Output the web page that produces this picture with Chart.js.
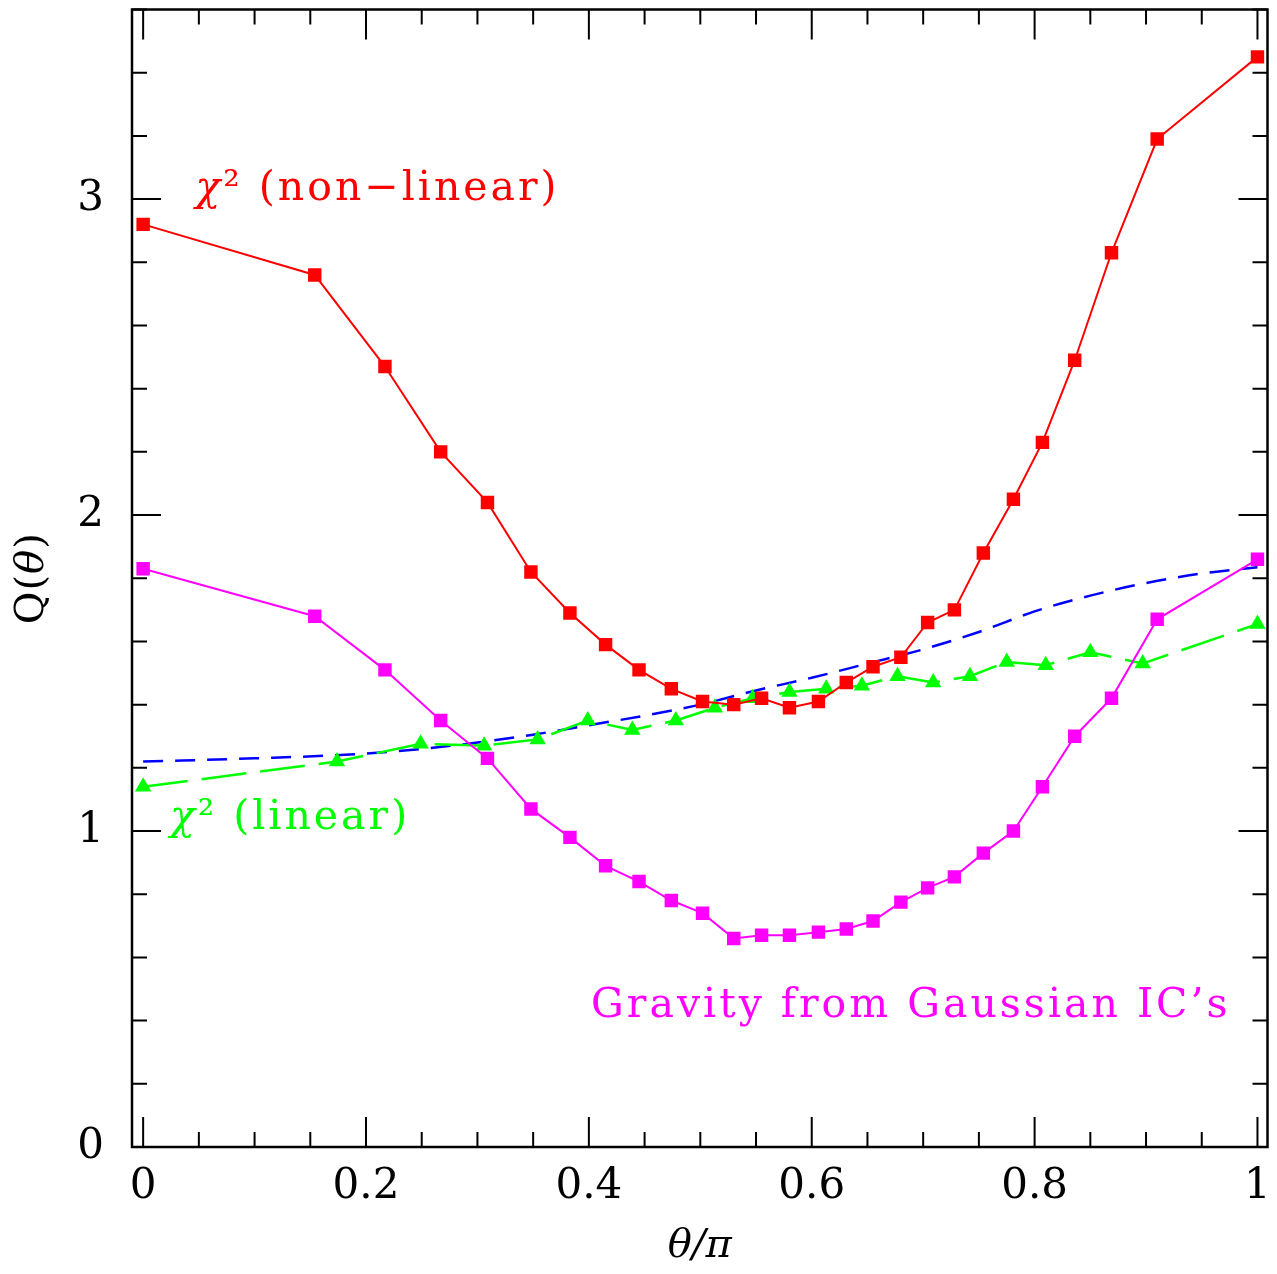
<!DOCTYPE html>
<html>
<head>
<meta charset="utf-8">
<script src="https://cdn.jsdelivr.net/npm/chart.js@4/dist/chart.umd.min.js"></script>
<style>
  html, body { margin: 0; padding: 0; background: #fff; }
</style>
</head>
<body>
<canvas id="qChart" width="1277" height="1274"></canvas>
<script>
// theta/pi sample points shared by the two square-marker curves
const thetaSq = [0, 0.154, 0.217, 0.267, 0.309, 0.348, 0.383, 0.415, 0.445, 0.474,
  0.502, 0.530, 0.555, 0.580, 0.606, 0.631, 0.655, 0.680, 0.704, 0.728,
  0.754, 0.781, 0.807, 0.836, 0.869, 0.910, 1.0];
const chi2NonLinear = [2.92, 2.76, 2.47, 2.20, 2.04, 1.82, 1.69, 1.59, 1.51, 1.45,
  1.41, 1.40, 1.42, 1.39, 1.41, 1.47, 1.52, 1.55, 1.66, 1.70,
  1.88, 2.05, 2.23, 2.49, 2.83, 3.19, 3.45];
const gravityGauss = [1.83, 1.68, 1.51, 1.35, 1.23, 1.07, 0.98, 0.89, 0.84, 0.78,
  0.74, 0.66, 0.67, 0.67, 0.68, 0.69, 0.715, 0.775, 0.82, 0.855,
  0.93, 1.00, 1.14, 1.30, 1.42, 1.67, 1.86];

const thetaTri = [0, 0.174, 0.249, 0.306, 0.354, 0.399, 0.439, 0.478, 0.513, 0.547,
  0.580, 0.613, 0.645, 0.677, 0.709, 0.742, 0.775, 0.810, 0.850, 0.897, 1.0];
const chi2Linear = [1.14, 1.22, 1.276, 1.27, 1.29, 1.35, 1.32, 1.35, 1.39, 1.42,
  1.44, 1.45, 1.46, 1.49, 1.47, 1.49, 1.535, 1.525, 1.566, 1.53, 1.655];

const thetaCurve = [0, 0.1, 0.2, 0.25, 0.3, 0.35, 0.4, 0.45, 0.5, 0.55,
  0.6, 0.65, 0.7, 0.75, 0.8, 0.85, 0.9, 0.95, 1.0];
const theoryCurve = [1.22, 1.23, 1.245, 1.26, 1.28, 1.305, 1.335, 1.365, 1.40, 1.445,
  1.485, 1.53, 1.575, 1.63, 1.695, 1.745, 1.785, 1.815, 1.835];

const xTickValues = [0, 0.2, 0.4, 0.6, 0.8, 1];
const xTickLabels = ['0', '0.2', '0.4', '0.6', '0.8', '1'];
const yTickValues = [0, 1, 2, 3];
const yTickLabels = ['0', '1', '2', '3'];

function pts(xs, ys) {
  return xs.map((x, i) => ({x: x, y: ys[i]}));
}

const FONT = 'DejaVu Serif';

// text labels placed in data coordinates
const notes = [
  {x: 0.047, y: 3.03, color: '#ff0000', parts: [['χ', 'italic'], ['² (non−linear)', 'normal']]},
  {x: 0.024, y: 1.04, color: '#00ff00', parts: [['χ', 'italic'], ['² (linear)', 'normal']]},
  {x: 0.402, y: 0.444, color: '#ff00ff', parts: [['Gravity from Gaussian IC’s', 'normal']]}
];

function drawRuns(ctx, parts, x, y, size) {
  parts.forEach(p => {
    ctx.font = p[1] + ' ' + size + 'px "' + FONT + '"';
    ctx.fillText(p[0], x, y);
    x += ctx.measureText(p[0]).width;
  });
}

function runsWidth(ctx, parts, size) {
  let w = 0;
  parts.forEach(p => {
    ctx.font = p[1] + ' ' + size + 'px "' + FONT + '"';
    w += ctx.measureText(p[0]).width;
  });
  return w;
}

const notesPlugin = {
  id: 'notes',
  afterDatasetsDraw(chart) {
    const ctx = chart.ctx;
    const xs = chart.scales.x, ys = chart.scales.y;
    const a = chart.chartArea;
    ctx.save();
    ctx.textBaseline = 'middle';
    ctx.textAlign = 'left';
    ctx.letterSpacing = '3px';
    notes.forEach(n => {
      ctx.fillStyle = n.color;
      drawRuns(ctx, n.parts, xs.getPixelForValue(n.x), ys.getPixelForValue(n.y), 41);
    });
    // y axis title, rotated
    ctx.letterSpacing = '1px';
    const yTitle = [['Q(', 'normal'], ['θ', 'italic'], [')', 'normal']];
    ctx.fillStyle = '#000';
    ctx.translate(33, (a.top + a.bottom) / 2);
    ctx.rotate(-Math.PI / 2);
    drawRuns(ctx, yTitle, -runsWidth(ctx, yTitle, 40) / 2, 0, 40);
    ctx.restore();
  }
};

// box frame with inward ticks on all four sides
const framePlugin = {
  id: 'frame',
  afterDatasetsDraw(chart) {
    const ctx = chart.ctx;
    const a = chart.chartArea;
    const xs = chart.scales.x, ys = chart.scales.y;
    ctx.save();
    ctx.strokeStyle = '#000';
    ctx.lineWidth = 2;
    ctx.beginPath();
    for (let i = 0; i <= 20; i++) {
      const px = xs.getPixelForValue(i * 0.05);
      const len = i % 4 === 0 ? 30 : 15;
      ctx.moveTo(px, a.bottom); ctx.lineTo(px, a.bottom - len);
      ctx.moveTo(px, a.top); ctx.lineTo(px, a.top + len);
    }
    for (let i = 0; i <= 18; i++) {
      const py = ys.getPixelForValue(i * 0.2);
      const len = i % 5 === 0 ? 29 : 15;
      ctx.moveTo(a.left, py); ctx.lineTo(a.left + len, py);
      ctx.moveTo(a.right, py); ctx.lineTo(a.right - len, py);
    }
    ctx.stroke();
    ctx.lineWidth = 2.5;
    ctx.strokeRect(a.left, a.top, a.right - a.left, a.bottom - a.top);
    ctx.restore();
  }
};

function noPad(s) {
  s.paddingTop = 0; s.paddingBottom = 0; s.paddingLeft = 0; s.paddingRight = 0;
}

new Chart(document.getElementById('qChart'), {
  type: 'scatter',
  data: {
    datasets: [
      {
        label: 'chi2 non-linear',
        data: pts(thetaSq, chi2NonLinear),
        showLine: true,
        borderColor: '#ff0000',
        backgroundColor: '#ff0000',
        borderWidth: 2,
        pointStyle: 'rect',
        pointRadius: 9.5,
        pointBorderWidth: 0
      },
      {
        label: 'gravity gaussian',
        data: pts(thetaSq, gravityGauss),
        showLine: true,
        borderColor: '#ff00ff',
        backgroundColor: '#ff00ff',
        borderWidth: 2,
        pointStyle: 'rect',
        pointRadius: 9.5,
        pointBorderWidth: 0
      },
      {
        label: 'chi2 linear',
        data: pts(thetaTri, chi2Linear),
        showLine: true,
        borderColor: '#00ff00',
        backgroundColor: '#00ff00',
        borderWidth: 2.5,
        borderDash: [45, 14],
        pointStyle: 'triangle',
        pointRadius: 9.5,
        pointBorderWidth: 0
      },
      {
        label: 'theory',
        data: pts(thetaCurve, theoryCurve),
        showLine: true,
        borderColor: '#0000ff',
        borderWidth: 2.5,
        borderDash: [20, 12],
        cubicInterpolationMode: 'monotone',
        pointRadius: 0
      }
    ]
  },
  options: {
    responsive: false,
    animation: false,
    events: [],
    layout: {padding: {top: 5, right: 6, left: 0, bottom: 0}},
    plugins: {
      legend: {display: false},
      tooltip: {enabled: false}
    },
    scales: {
      x: {
        type: 'linear',
        min: -0.01,
        max: 1.009,
        grid: {display: false, drawTicks: false},
        border: {display: false},
        afterBuildTicks: s => { s.ticks = xTickValues.map(v => ({value: v})); },
        afterFit: s => { s.height = 127; noPad(s); },
        ticks: {
          padding: 15,
          autoSkip: false,
          maxRotation: 0,
          color: '#000',
          font: {family: FONT, size: 42},
          callback: (v, i) => xTickLabels[i]
        },
        title: {
          display: true,
          text: 'θ/π',
          color: '#000',
          font: {family: FONT, size: 40, style: 'italic'},
          padding: {top: 0, bottom: 3}
        }
      },
      y: {
        type: 'linear',
        min: 0,
        max: 3.6,
        grid: {display: false, drawTicks: false},
        border: {display: false},
        afterBuildTicks: s => { s.ticks = yTickValues.map(v => ({value: v})); },
        afterFit: s => { s.width = 132; noPad(s); },
        ticks: {
          padding: 28,
          autoSkip: false,
          color: '#000',
          font: {family: FONT, size: 42},
          callback: (v, i) => yTickLabels[i]
        },
        title: {display: false}
      }
    }
  },
  plugins: [framePlugin, notesPlugin]
});
</script>
</body>
</html>
